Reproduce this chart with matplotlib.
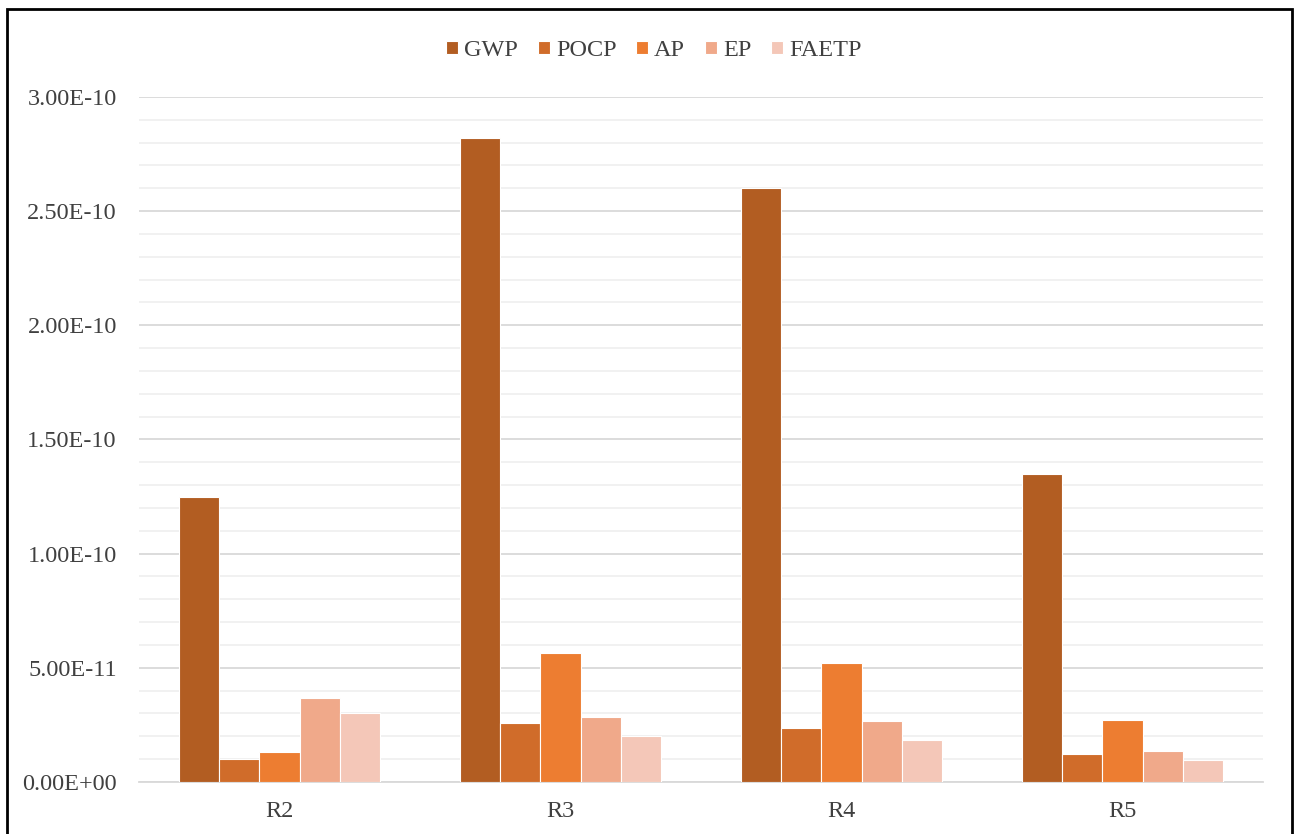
import matplotlib.pyplot as plt
import numpy as np
from matplotlib.patches import Rectangle

plt.rcParams["font.family"] = ["Liberation Serif", "DejaVu Serif"]

regions = ["R2", "R3", "R4", "R5"]
indicators = ["GWP", "POCP", "AP", "EP", "FAETP"]

gwp = [1.25e-10, 2.82e-10, 2.60e-10, 1.35e-10]
pocp = [1.00e-11, 2.58e-11, 2.36e-11, 1.23e-11]
ap = [1.31e-11, 5.65e-11, 5.21e-11, 2.72e-11]
ep = [3.68e-11, 2.85e-11, 2.67e-11, 1.36e-11]
faetp = [3.02e-11, 2.01e-11, 1.84e-11, 9.6e-12]

y_ticks = [0, 5e-11, 1e-10, 1.5e-10, 2e-10, 2.5e-10, 3e-10]
y_labels = ["0.00E+00", "5.00E-11", "1.00E-10", "1.50E-10", "2.00E-10", "2.50E-10", "3.00E-10"]

colors = ["#B25D22", "#D06C2A", "#ED7D31", "#F0A98A", "#F4C7B8"]

fig = plt.figure(figsize=(12.98, 8.34), dpi=100)
ax = fig.add_axes([0.1071, 0.0624, 0.8659, 0.8213])

x = np.arange(len(regions))
w = 0.143
series = [gwp, pocp, ap, ep, faetp]
for i, (name, vals) in enumerate(zip(indicators, series)):
    ax.bar(x + (i - 2) * w, vals, w, color=colors[i], label=name,
           edgecolor="white", linewidth=0.8, zorder=3)

ax.set_xlim(-0.5, len(regions) - 0.5)
ax.set_ylim(0, 3.0e-10)
ax.set_xticks(x)
ax.set_xticklabels(regions)
ax.set_yticks(y_ticks)
ax.set_yticklabels(y_labels)
ax.set_yticks(np.arange(1, 30) * 1e-11, minor=True)
ax.grid(axis="y", which="major", color="#D9D9D9", linewidth=1.3, zorder=0)
ax.grid(axis="y", which="minor", color="#F0F0F0", linewidth=1.3, zorder=0)
ax.tick_params(axis="both", which="both", length=0, labelsize=17.5, colors="#404040")
ax.tick_params(axis="y", pad=16)
ax.tick_params(axis="x", pad=14)
for side in ["left", "right", "top"]:
    ax.spines[side].set_visible(False)
ax.spines["bottom"].set_color("#D9D9D9")
ax.spines["bottom"].set_linewidth(1.3)

ax.legend(loc="upper center", bbox_to_anchor=(0.458, 1.115), ncol=5, frameon=False,
          fontsize=17.5, handlelength=0.5, handleheight=0.5, handletextpad=0.25,
          columnspacing=0.8, labelcolor="#404040")

# outer frame round the whole chart
fig.patches.append(Rectangle((0.0054, -0.01), 0.9900, 0.9995, transform=fig.transFigure,
                             fill=False, edgecolor="black", linewidth=2))

fig.savefig("out.png", dpi=100)
